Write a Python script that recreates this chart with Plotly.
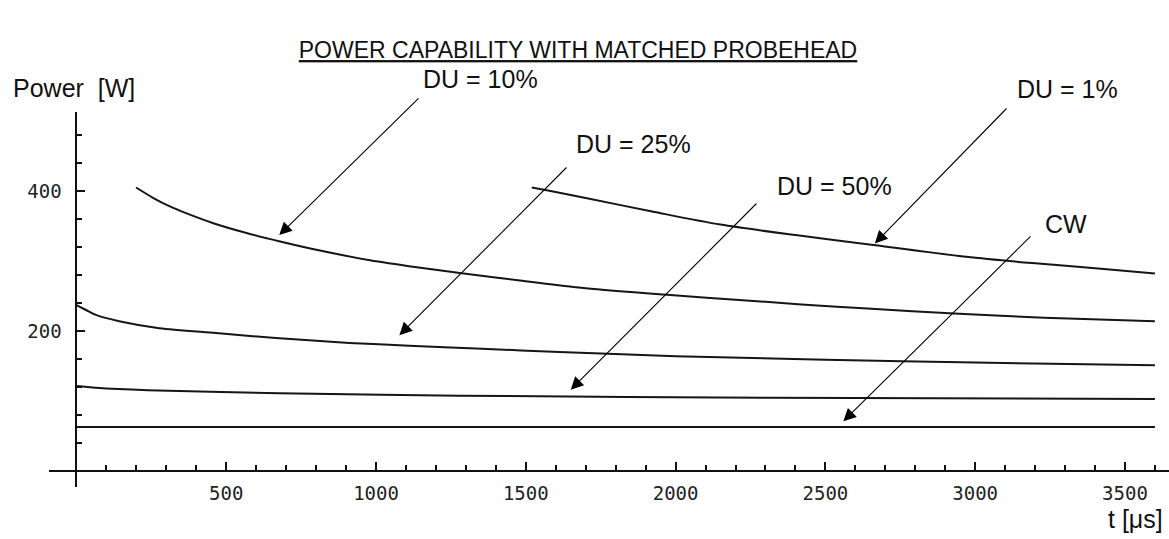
import plotly.graph_objects as go

# ---------------- data ----------------
du1_t = [1520, 1570, 1700, 1930, 2150, 2400, 2660, 2970, 3190, 3420, 3600]
du1_p = [405, 401, 390, 370, 352, 337, 323, 306, 297, 289, 282]

du10_t = [199, 257, 312, 368, 457, 568, 680, 813, 980, 1136, 1280, 1480, 1700,
          1960, 2260, 2420, 2640, 2930, 3230, 3600]
du10_p = [405, 390, 378, 368, 354, 340, 328, 315, 301, 291, 283, 272, 261,
          252, 243, 238, 232, 225, 219, 214]

du25_t = [0, 32, 65, 143, 277, 466, 666, 911, 1111, 1334, 1612, 2000, 2500, 3000, 3600]
du25_p = [237, 230, 223, 214, 204, 197, 190, 183, 179, 175, 170, 164, 159, 155, 151]

du50_t = [0, 65, 238, 677, 1278, 2314, 3600]
du50_p = [121.5, 119, 115.5, 111, 107.5, 104.5, 103]

cw_t = [0, 3600]
cw_p = [63, 63]

x_tickvals = [500, 1000, 1500, 2000, 2500, 3000, 3500]
x_ticktext = ["500", "1000", "1500", "2000", "2500", "3000", "3500"]
y_tickvals = [200, 400]
y_ticktext = ["200", "400"]

title_text = "POWER CAPABILITY WITH MATCHED PROBEHEAD"
y_label = "Power\u00a0 [W]"
x_label = "t [\u03bcs]"

# label text, arrow-head position (data)
arrow_labels = ["DU = 10%", "DU = 25%", "DU = 50%", "DU = 1%", "CW"]
arrow_head_t = [677, 1078, 1650, 2665, 2560]
arrow_head_p = [337, 194, 116, 325, 71]

# ---------------- layout geometry ----------------
W, H = 1169, 539
L, R, T, B = 49, 0, 112, 52
X_RANGE = [-91.5, 3647]
Y_RANGE = [-22.9, 512.9]
PW, PH = W - L - R, H - T - B


def px2paper(px, py):
    return (px - L) / PW, (H - B - py) / PH


FONT = "Liberation Sans, Arial, sans-serif"
TICKFONT = dict(family="DejaVu Sans Mono, Liberation Mono, monospace", size=19, color="#222")
LINE = dict(color="#151515", width=2, shape="spline", smoothing=0.8)

fig = go.Figure()
for t, p, name in [(du1_t, du1_p, "DU = 1%"), (du10_t, du10_p, "DU = 10%"),
                   (du25_t, du25_p, "DU = 25%"), (du50_t, du50_p, "DU = 50%"),
                   (cw_t, cw_p, "CW")]:
    fig.add_trace(go.Scatter(x=t, y=p, mode="lines", line=LINE, name=name,
                             showlegend=False, hoverinfo="skip"))

x0_pos = (0 - X_RANGE[0]) / (X_RANGE[1] - X_RANGE[0])
y0_pos = (0 - Y_RANGE[0]) / (Y_RANGE[1] - Y_RANGE[0])

fig.update_layout(
    width=W, height=H, autosize=False,
    margin=dict(l=L, r=R, t=T, b=B, pad=0),
    paper_bgcolor="white", plot_bgcolor="white",
    showlegend=False,
    title=dict(text="<u>" + title_text + "</u>", x=578 / W, xanchor="center",
               y=1 - 50 / H, yanchor="middle", xref="container", yref="container",
               font=dict(family=FONT, size=23, color="#111")),
    xaxis=dict(range=X_RANGE, showgrid=False, zeroline=False, showline=True,
               linecolor="#111", linewidth=2, anchor="free", position=y0_pos,
               ticks="inside", ticklen=8, tickwidth=2, tickcolor="#111",
               tickmode="array", tickvals=x_tickvals, ticktext=x_ticktext,
               tickfont=TICKFONT, ticklabelstandoff=5,
               minor=dict(ticks="inside", dtick=100, tick0=0, ticklen=5,
                          tickwidth=2, tickcolor="#111", showgrid=False)),
    yaxis=dict(range=Y_RANGE, showgrid=False, zeroline=False, showline=True,
               linecolor="#111", linewidth=2, anchor="free", position=x0_pos,
               ticks="inside", ticklen=8, tickwidth=2, tickcolor="#111",
               tickmode="array", tickvals=y_tickvals, ticktext=y_ticktext,
               tickfont=TICKFONT, ticklabelstandoff=10,
               minor=dict(ticks="inside", dtick=40, tick0=0, ticklen=5,
                          tickwidth=2, tickcolor="#111", showgrid=False)),
)

annotations = []
# axis labels
for txt, (px, py) in [(y_label, (74, 88)), (x_label, (1135, 519))]:
    ax_, ay_ = px2paper(px, py)
    annotations.append(dict(text=txt, x=ax_, y=ay_, xref="paper", yref="paper",
                            xanchor="center", yanchor="middle", showarrow=False,
                            font=dict(family=FONT, size=25, color="#111")))

# curve labels (pixel centres) and arrow tails (pixel)
label_centres = [(480, 79), (633, 144), (834, 186), (1067, 89), (1066, 224)]
arrow_tails = [(420, 97), (568, 166), (758, 202), (1008, 107), (1032, 235)]

for txt, (px, py) in zip(arrow_labels, label_centres):
    ax_, ay_ = px2paper(px, py)
    annotations.append(dict(text=txt, x=ax_, y=ay_, xref="paper", yref="paper",
                            xanchor="center", yanchor="middle", showarrow=False,
                            font=dict(family=FONT, size=25, color="#111")))


def data2px(t, p):
    px = L + (t - X_RANGE[0]) / (X_RANGE[1] - X_RANGE[0]) * PW
    py = T + (Y_RANGE[1] - p) / (Y_RANGE[1] - Y_RANGE[0]) * PH
    return px, py


for t, p, (tx, ty) in zip(arrow_head_t, arrow_head_p, arrow_tails):
    hx, hy = data2px(t, p)
    annotations.append(dict(text="", x=t, y=p, xref="x", yref="y",
                            ax=tx - hx, ay=ty - hy, axref="pixel", ayref="pixel",
                            showarrow=True, arrowhead=2, arrowsize=2.3,
                            arrowwidth=1.1, arrowcolor="#000", standoff=0))

fig.update_layout(annotations=annotations)
fig.write_html(
    "out.html",
    config={"displayModeBar": False},
    post_script="document.body.style.margin='0';document.body.style.padding='0';"
                "document.documentElement.style.overflow='hidden';",
)
